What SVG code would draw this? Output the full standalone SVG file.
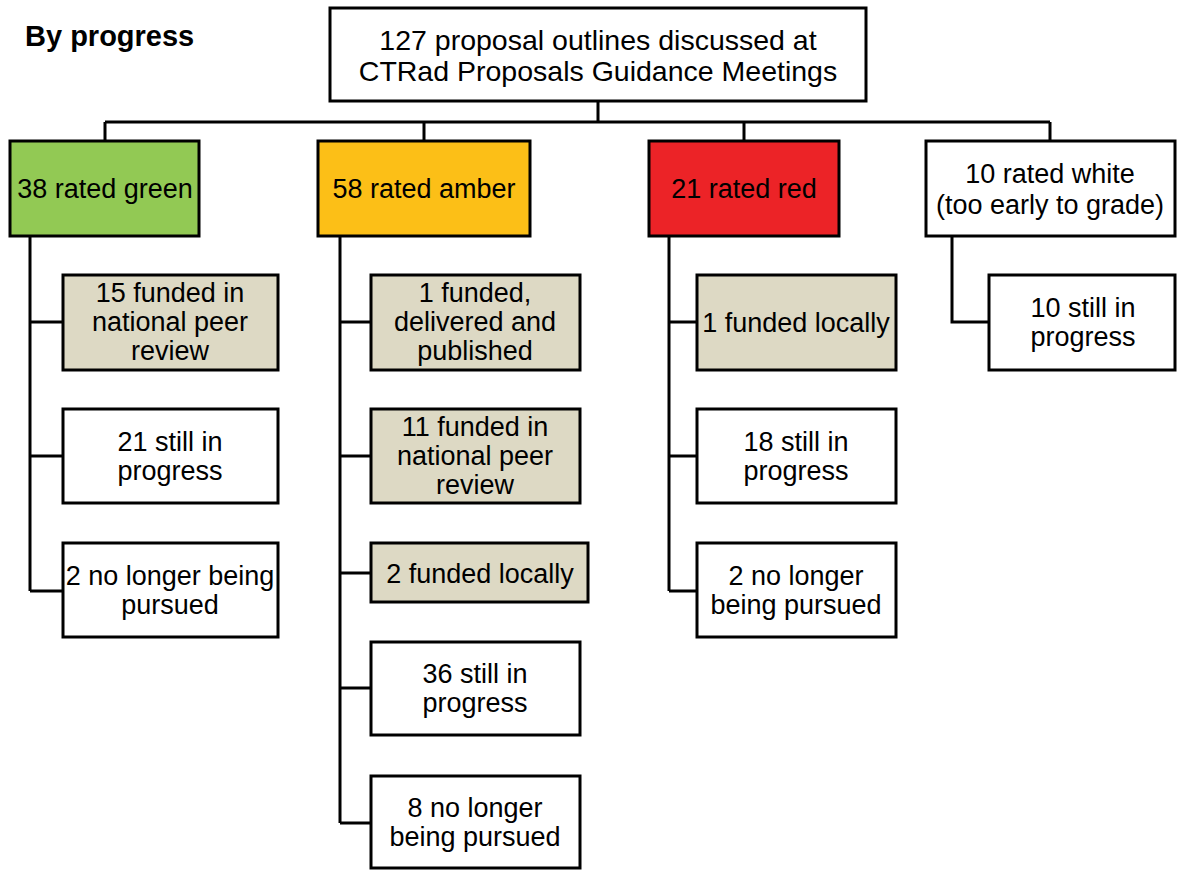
<svg xmlns="http://www.w3.org/2000/svg" width="1177" height="870" viewBox="0 0 1177 870">
  <style>
    .box { stroke: #000; stroke-width: 3; }
    .plain { fill: #fff; }
    .tan { fill: #DDD9C4; }
    .green { fill: #92C954; }
    .amber { fill: #FCBF17; }
    .red { fill: #EC2327; }
    .wire { fill: none; stroke: #000; stroke-width: 3; }
    text { font-family: "Liberation Sans", Arial, sans-serif; font-size: 27px; fill: #000; text-anchor: middle; }
    .title { font-weight: bold; font-size: 29px; text-anchor: start; }
    .head { font-size: 28.5px; }
  </style>

  <text class="title" x="25" y="46">By progress</text>

  <!-- connectors -->
  <g id="connectors">
    <path class="wire" d="M598 101 V122 M105 122 H1050 M105 122 V141 M424 122 V141 M744 122 V141 M1050 122 V141"/>
    <!-- green branch -->
    <path class="wire" d="M30 236 V591 M30 322 H63 M30 456 H63 M30 591 H63"/>
    <!-- amber branch -->
    <path class="wire" d="M340 236 V823 M340 322 H371 M340 456 H371 M340 573 H371 M340 688 H371 M340 823 H371"/>
    <!-- red branch -->
    <path class="wire" d="M669 236 V591 M669 322 H697 M669 456 H697 M669 591 H697"/>
    <!-- white branch -->
    <path class="wire" d="M952 236 V322 H989"/>
  </g>

  <g id="root">
    <rect class="box plain" x="330" y="8" width="536" height="93"/>
    <text class="head" x="598" y="50">127 proposal outlines discussed at</text>
    <text class="head" x="598" y="81">CTRad Proposals Guidance Meetings</text>
  </g>

  <g id="green">
    <rect class="box green" x="10" y="141" width="189" height="95"/>
    <text x="105" y="198">38 rated green</text>
  </g>
  <g id="amber">
    <rect class="box amber" x="318" y="141" width="212" height="95"/>
    <text x="424" y="198">58 rated amber</text>
  </g>
  <g id="red">
    <rect class="box red" x="649" y="141" width="190" height="95"/>
    <text x="744" y="198">21 rated red</text>
  </g>
  <g id="white">
    <rect class="box plain" x="926" y="141" width="249" height="95"/>
    <text x="1050" y="183">10 rated white</text>
    <text x="1050" y="214">(too early to grade)</text>
  </g>

  <!-- green children -->
  <g id="green-funded">
    <rect class="box tan" x="63" y="275" width="215" height="95"/>
    <text x="170" y="302">15 funded in</text>
    <text x="170" y="331">national peer</text>
    <text x="170" y="360">review</text>
  </g>
  <g id="green-progress">
    <rect class="box plain" x="63" y="409" width="215" height="94"/>
    <text x="170" y="451">21 still in</text>
    <text x="170" y="480">progress</text>
  </g>
  <g id="green-dropped">
    <rect class="box plain" x="63" y="543" width="215" height="94"/>
    <text x="170" y="585">2 no longer being</text>
    <text x="170" y="614">pursued</text>
  </g>

  <!-- amber children -->
  <g id="amber-published">
    <rect class="box tan" x="371" y="275" width="209" height="95"/>
    <text x="475" y="302">1 funded,</text>
    <text x="475" y="331">delivered and</text>
    <text x="475" y="360">published</text>
  </g>
  <g id="amber-funded">
    <rect class="box tan" x="371" y="409" width="209" height="94"/>
    <text x="475" y="436">11 funded in</text>
    <text x="475" y="465">national peer</text>
    <text x="475" y="494">review</text>
  </g>
  <g id="amber-local">
    <rect class="box tan" x="371" y="543" width="217" height="59"/>
    <text x="480" y="583">2 funded locally</text>
  </g>
  <g id="amber-progress">
    <rect class="box plain" x="371" y="642" width="209" height="93"/>
    <text x="475" y="683">36 still in</text>
    <text x="475" y="712">progress</text>
  </g>
  <g id="amber-dropped">
    <rect class="box plain" x="371" y="776" width="209" height="92"/>
    <text x="475" y="817">8 no longer</text>
    <text x="475" y="846">being pursued</text>
  </g>

  <!-- red children -->
  <g id="red-local">
    <rect class="box tan" x="697" y="275" width="199" height="95"/>
    <text x="796" y="332">1 funded locally</text>
  </g>
  <g id="red-progress">
    <rect class="box plain" x="697" y="409" width="199" height="94"/>
    <text x="796" y="451">18 still in</text>
    <text x="796" y="480">progress</text>
  </g>
  <g id="red-dropped">
    <rect class="box plain" x="697" y="543" width="199" height="94"/>
    <text x="796" y="585">2 no longer</text>
    <text x="796" y="614">being pursued</text>
  </g>

  <!-- white child -->
  <g id="white-progress">
    <rect class="box plain" x="989" y="275" width="186" height="95"/>
    <text x="1083" y="317">10 still in</text>
    <text x="1083" y="346">progress</text>
  </g>
</svg>
